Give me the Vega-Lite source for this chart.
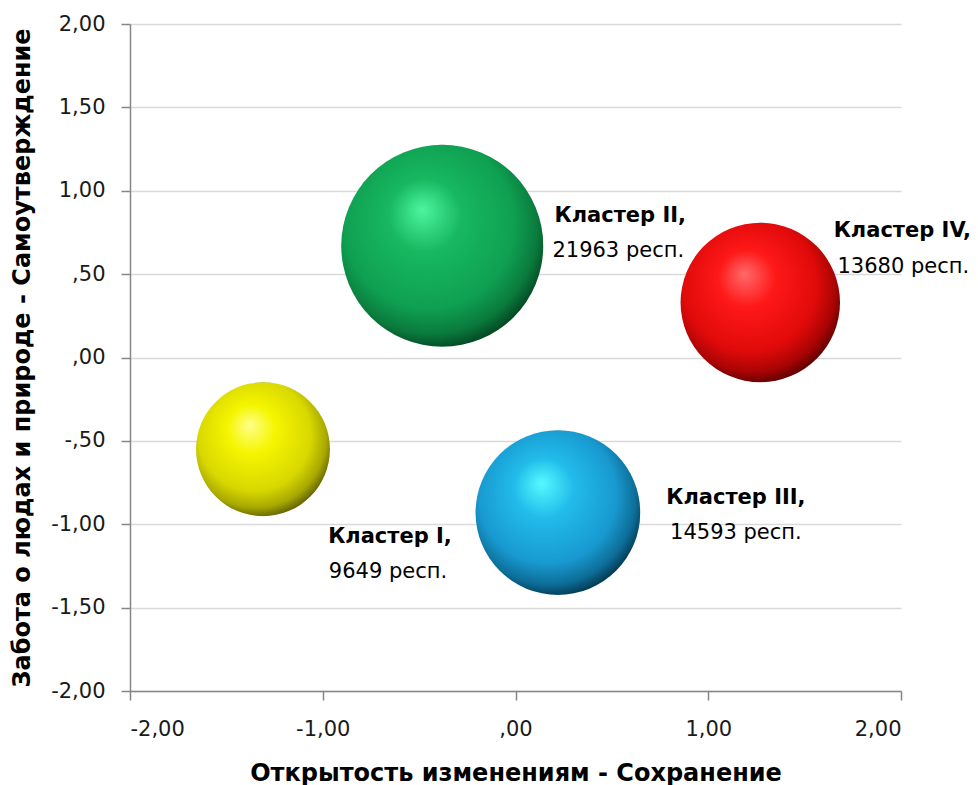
{
  "$schema": "https://vega.github.io/schema/vega-lite/v6.json",
  "width": 771,
  "height": 667,
  "autosize": "none",
  "padding": {"left": 130, "top": 24, "right": 77, "bottom": 94},
  "background": "#ffffff",
  "config": {
    "view": {"stroke": null},
    "font": "DejaVu Sans",
    "axis": {"labelFont": "DejaVu Sans", "titleFont": "DejaVu Sans"}
  },
  "data": {
    "values": [
      {"cluster": "I", "name": "Кластер I,", "respLabel": "9649 респ.", "x": -1.31, "y": -0.55, "resp": 9649},
      {"cluster": "II", "name": "Кластер II,", "respLabel": "21963 респ.", "x": -0.38, "y": 0.67, "resp": 21963},
      {"cluster": "III", "name": "Кластер III,", "respLabel": "14593 респ.", "x": 0.22, "y": -0.93, "resp": 14593},
      {"cluster": "IV", "name": "Кластер IV,", "respLabel": "13680 респ.", "x": 1.27, "y": 0.33, "resp": 13680}
    ]
  },
  "encoding": {
    "x": {
      "field": "x", "type": "quantitative",
      "scale": {"domain": [-2, 2], "nice": false, "zero": false},
      "axis": {
        "values": [-2, -1, 0, 1, 2],
        "grid": false,
        "domainColor": "#868686", "domainWidth": 1.5,
        "tickColor": "#868686", "tickWidth": 1.5, "tickSize": 9,
        "labelFontSize": 21, "labelColor": "#1a1a1a", "labelPadding": 18,
        "labelExpr": "replace(replace(replace(format(datum.value, '.2f'), '−', '-'), /^(-?)0\\./, '$1.'), '.', ',')",
        "title": "Открытость изменениям - Сохранение",
        "titleFontSize": 24, "titleFontWeight": "bold", "titleColor": "#000000", "titlePadding": 22
      }
    },
    "y": {
      "field": "y", "type": "quantitative",
      "scale": {"domain": [-2, 2], "nice": false, "zero": false},
      "axis": {
        "values": [-2, -1.5, -1, -0.5, 0, 0.5, 1, 1.5, 2],
        "grid": true, "gridColor": "#d9d9d9", "gridWidth": 1.5,
        "domainColor": "#868686", "domainWidth": 1.5,
        "tickColor": "#868686", "tickWidth": 1.5, "tickSize": 9,
        "labelFontSize": 21, "labelColor": "#1a1a1a", "labelPadding": 16,
        "labelExpr": "replace(replace(replace(format(datum.value, '.2f'), '−', '-'), /^(-?)0\\./, '$1.'), '.', ',')",
        "title": "Забота о людах и природе - Самоутверждение",
        "titleFontSize": 24, "titleFontWeight": "bold", "titleColor": "#000000", "titlePadding": 16
      }
    }
  },
  "layer": [
    {
      "transform": [{"filter": "datum.cluster == 'I'"}],
      "layer": [
        {
          "mark": {"type": "point", "shape": "circle", "filled": true, "opacity": 1, "strokeWidth": 0,
            "fill": {"gradient": "radial", "x1": 0.4, "y1": 0.32, "r1": 0, "x2": 0.45, "y2": 0.42, "r2": 0.6,
              "stops": [{"offset": 0, "color": "#ffff8a"}, {"offset": 0.3, "color": "#f5f500"}, {"offset": 0.7, "color": "#d8d800"}, {"offset": 0.88, "color": "#a8a800"}, {"offset": 1, "color": "#5e5e00"}]}},
          "encoding": {"size": {"field": "resp", "type": "quantitative", "scale": {"domain": [0, 21963], "range": [0, 40804]}, "legend": null}}
        },
        {
          "mark": {"type": "text", "fontWeight": "bold", "fontSize": 21, "color": "#000000", "align": "center", "baseline": "middle", "dx": 127, "dy": 88},
          "encoding": {"text": {"field": "name"}}
        },
        {
          "mark": {"type": "text", "fontSize": 21, "color": "#000000", "align": "center", "baseline": "middle", "dx": 125, "dy": 123},
          "encoding": {"text": {"field": "respLabel"}}
        }
      ]
    },
    {
      "transform": [{"filter": "datum.cluster == 'II'"}],
      "layer": [
        {
          "mark": {"type": "point", "shape": "circle", "filled": true, "opacity": 1, "strokeWidth": 0,
            "fill": {"gradient": "radial", "x1": 0.4, "y1": 0.32, "r1": 0, "x2": 0.45, "y2": 0.42, "r2": 0.6,
              "stops": [{"offset": 0, "color": "#4ef5a0"}, {"offset": 0.3, "color": "#17b860"}, {"offset": 0.7, "color": "#0fa052"}, {"offset": 0.88, "color": "#0a7a3c"}, {"offset": 1, "color": "#024422"}]}},
          "encoding": {"size": {"field": "resp", "type": "quantitative", "scale": {"domain": [0, 21963], "range": [0, 40804]}, "legend": null}}
        },
        {
          "mark": {"type": "text", "fontWeight": "bold", "fontSize": 21, "color": "#000000", "align": "center", "baseline": "middle", "dx": 178, "dy": -30},
          "encoding": {"text": {"field": "name"}}
        },
        {
          "mark": {"type": "text", "fontSize": 21, "color": "#000000", "align": "center", "baseline": "middle", "dx": 176, "dy": 5},
          "encoding": {"text": {"field": "respLabel"}}
        }
      ]
    },
    {
      "transform": [{"filter": "datum.cluster == 'III'"}],
      "layer": [
        {
          "mark": {"type": "point", "shape": "circle", "filled": true, "opacity": 1, "strokeWidth": 0,
            "fill": {"gradient": "radial", "x1": 0.4, "y1": 0.32, "r1": 0, "x2": 0.45, "y2": 0.42, "r2": 0.6,
              "stops": [{"offset": 0, "color": "#55faff"}, {"offset": 0.3, "color": "#22bcea"}, {"offset": 0.7, "color": "#1899d0"}, {"offset": 0.88, "color": "#0d6e98"}, {"offset": 1, "color": "#02364e"}]}},
          "encoding": {"size": {"field": "resp", "type": "quantitative", "scale": {"domain": [0, 21963], "range": [0, 40804]}, "legend": null}}
        },
        {
          "mark": {"type": "text", "fontWeight": "bold", "fontSize": 21, "color": "#000000", "align": "center", "baseline": "middle", "dx": 178, "dy": -15},
          "encoding": {"text": {"field": "name"}}
        },
        {
          "mark": {"type": "text", "fontSize": 21, "color": "#000000", "align": "center", "baseline": "middle", "dx": 178, "dy": 20},
          "encoding": {"text": {"field": "respLabel"}}
        }
      ]
    },
    {
      "transform": [{"filter": "datum.cluster == 'IV'"}],
      "layer": [
        {
          "mark": {"type": "point", "shape": "circle", "filled": true, "opacity": 1, "strokeWidth": 0,
            "fill": {"gradient": "radial", "x1": 0.4, "y1": 0.32, "r1": 0, "x2": 0.45, "y2": 0.42, "r2": 0.6,
              "stops": [{"offset": 0, "color": "#ff6a6a"}, {"offset": 0.3, "color": "#ff1818"}, {"offset": 0.7, "color": "#e00a0a"}, {"offset": 0.88, "color": "#a80404"}, {"offset": 1, "color": "#5a0000"}]}},
          "encoding": {"size": {"field": "resp", "type": "quantitative", "scale": {"domain": [0, 21963], "range": [0, 40804]}, "legend": null}}
        },
        {
          "mark": {"type": "text", "fontWeight": "bold", "fontSize": 21, "color": "#000000", "align": "center", "baseline": "middle", "dx": 142, "dy": -71},
          "encoding": {"text": {"field": "name"}}
        },
        {
          "mark": {"type": "text", "fontSize": 21, "color": "#000000", "align": "center", "baseline": "middle", "dx": 143, "dy": -35},
          "encoding": {"text": {"field": "respLabel"}}
        }
      ]
    }
  ]
}
